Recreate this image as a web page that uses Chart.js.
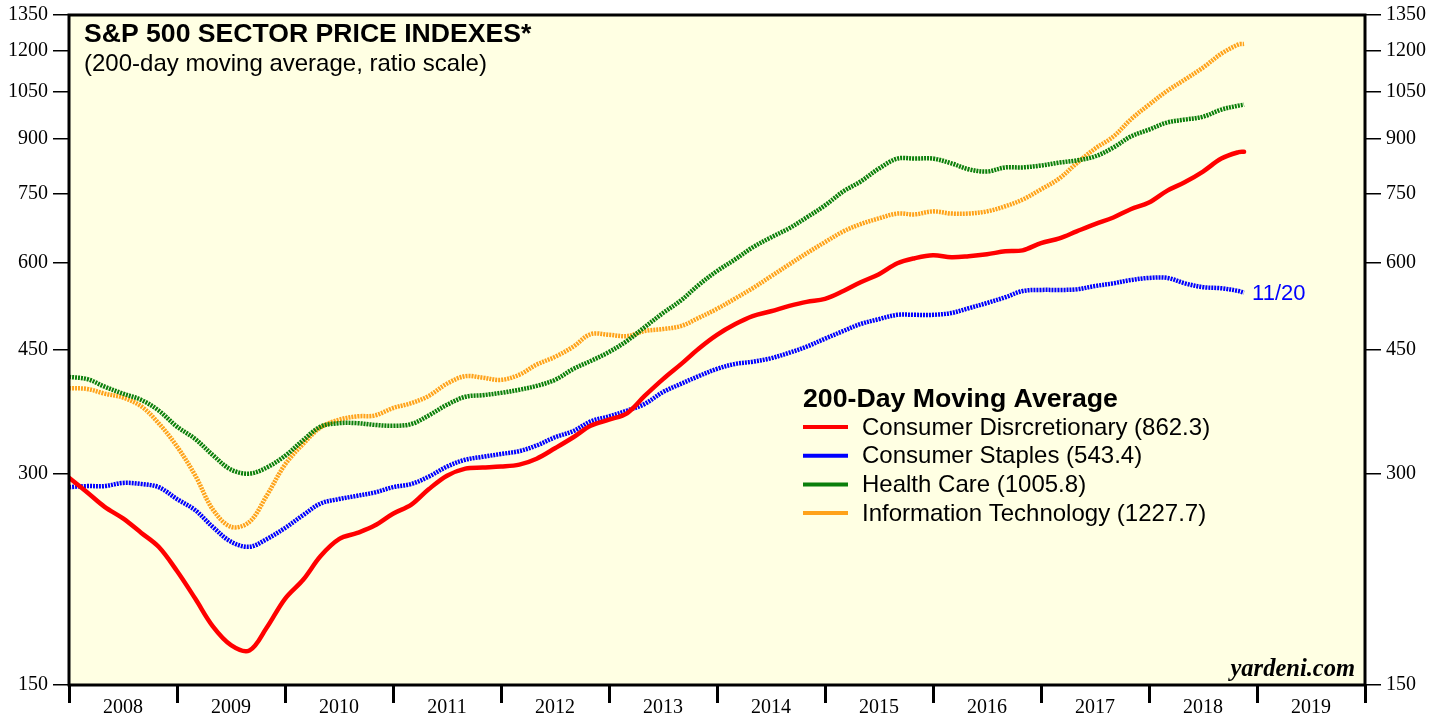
<!DOCTYPE html>
<html>
<head>
<meta charset="utf-8">
<title>S&amp;P 500 Sector Price Indexes</title>
<script src="https://cdn.jsdelivr.net/npm/chart.js@4.4.1/dist/chart.umd.min.js"></script>
<style>
  html, body { margin: 0; padding: 0; background: #fff; }
  #wrap { width: 1446px; height: 719px; }
</style>
</head>
<body>
<div id="wrap"><canvas id="chart" width="1446" height="719"></canvas></div>
<script>
// every two months, Jan 2008 .. Nov 2018 (decimal years)
const dates = [
  2008.00, 2008.17, 2008.33, 2008.50, 2008.67, 2008.83,
  2009.00, 2009.17, 2009.33, 2009.50, 2009.67, 2009.83,
  2010.00, 2010.17, 2010.33, 2010.50, 2010.67, 2010.83,
  2011.00, 2011.17, 2011.33, 2011.50, 2011.67, 2011.83,
  2012.00, 2012.17, 2012.33, 2012.50, 2012.67, 2012.83,
  2013.00, 2013.17, 2013.33, 2013.50, 2013.67, 2013.83,
  2014.00, 2014.17, 2014.33, 2014.50, 2014.67, 2014.83,
  2015.00, 2015.17, 2015.33, 2015.50, 2015.67, 2015.83,
  2016.00, 2016.17, 2016.33, 2016.50, 2016.67, 2016.83,
  2017.00, 2017.17, 2017.33, 2017.50, 2017.67, 2017.83,
  2018.00, 2018.17, 2018.33, 2018.50, 2018.67, 2018.83, 2018.88
];

const discretionary = [
  296, 282, 269, 259, 247, 236, 218, 199, 182, 171, 168, 181,
  199, 212, 229, 242, 247, 253, 263, 271, 285, 298, 305, 306,
  307, 309, 315, 326, 338, 351, 358, 366, 387, 409, 430, 452,
  473, 490, 503, 511, 520, 527, 532, 546, 562, 577, 598, 608,
  614, 610, 612, 616, 622, 624, 639, 649, 664, 680, 695, 714,
  730, 759, 780, 808, 843, 861, 862
];

const staples = [
  287, 288, 288, 291, 290, 287, 276, 266, 252, 240, 236, 242,
  251, 262, 272, 276, 279, 282, 287, 290, 297, 307, 314, 317,
  320, 323, 329, 338, 345, 356, 362, 369, 377, 392, 403, 413,
  423, 430, 433, 438, 446, 455, 467, 479, 490, 498, 505, 505,
  505, 508, 516, 525, 535, 546, 548, 548, 549, 555, 560, 566,
  570, 570, 560, 553, 551, 546, 543
];

const healthCare = [
  412, 409, 399, 390, 382, 369, 350, 336, 319, 304, 300, 306,
  318, 335, 350, 354, 354, 352, 351, 353, 363, 376, 386, 388,
  391, 395, 400, 408, 423, 434, 447, 464, 485, 508, 530, 557,
  583, 606, 630, 651, 671, 695, 723, 757, 782, 816, 843, 843,
  843, 830, 814, 808, 819, 819, 824, 832, 838, 849, 874, 906,
  927, 949, 958, 967, 990, 1003, 1006
];

const infoTech = [
  397, 396, 390, 385, 374, 354, 328, 298, 267, 252, 256, 279,
  309, 331, 349, 358, 362, 363, 372, 378, 387, 403, 413, 411,
  408, 415, 429, 440, 455, 474, 473, 471, 479, 482, 487, 500,
  515, 533, 551, 573, 596, 618, 641, 664, 680, 693, 704, 702,
  709, 704, 704, 709, 721, 737, 762, 790, 830, 871, 906, 958,
  1006, 1053, 1092, 1136, 1189, 1226, 1228
];

const yTicks = [150, 300, 450, 600, 750, 900, 1050, 1200, 1350];
const yearLabels = ["2008", "2009", "2010", "2011", "2012", "2013",
  "2014", "2015", "2016", "2017", "2018", "2019"];
const yearEdges = [2008, 2009, 2010, 2011, 2012, 2013, 2014,
  2015, 2016, 2017, 2018, 2019, 2020];

const legendItems = [
  { text: "Consumer Disrcretionary (862.3)", color: "#ff0000" },
  { text: "Consumer Staples (543.4)", color: "#0000ff" },
  { text: "Health Care (1005.8)", color: "#0b7f0b" },
  { text: "Information Technology (1227.7)", color: "#ffa21a" },
];

const serif = '"Liberation Serif", "Times New Roman", serif';
const sans = '"Liberation Sans", Arial, Helvetica, sans-serif';
const tickFont = { family: serif, size: 20, lineHeight: 1 };

function toPoints(values) {
  return values.map((v, i) => ({ x: dates[i], y: v }));
}

// year edges get tick marks, mid-years get the labels
const xTickValues = [];
yearEdges.forEach((y, i) => {
  xTickValues.push(y);
  if (i < yearLabels.length) xTickValues.push(y + 0.5);
});

const decorPlugin = {
  id: "decor",
  beforeDraw(chart) {
    const { ctx, chartArea: a } = chart;
    ctx.save();
    ctx.fillStyle = "#ffffe3";
    ctx.fillRect(a.left, a.top, a.right - a.left, a.bottom - a.top);
    ctx.restore();
  },
  afterDraw(chart) {
    const { ctx, chartArea: a } = chart;
    ctx.save();
    ctx.strokeStyle = "#000";
    ctx.lineWidth = 3;
    ctx.strokeRect(a.left, a.top, a.right - a.left, a.bottom - a.top);

    ctx.fillStyle = "#000";
    ctx.textAlign = "left";
    ctx.textBaseline = "alphabetic";
    ctx.font = "bold 26.6px " + sans;
    ctx.fillText("S&P 500 SECTOR PRICE INDEXES*", 84, 42);
    ctx.font = "24px " + sans;
    ctx.fillText("(200-day moving average, ratio scale)", 84, 71);

    // legend
    ctx.font = "bold 26.7px " + sans;
    ctx.fillText("200-Day Moving Average", 803, 407);
    ctx.font = "24px " + sans;
    ctx.textBaseline = "middle";
    legendItems.forEach((item, i) => {
      const y = 427 + i * 28.7;
      ctx.strokeStyle = item.color;
      ctx.lineWidth = 4;
      ctx.beginPath();
      ctx.moveTo(803, y);
      ctx.lineTo(848, y);
      ctx.stroke();
      ctx.fillStyle = "#000";
      ctx.fillText(item.text, 862, y + 1);
    });

    // date tag next to the last staples point
    const xs = chart.scales.x;
    const ys = chart.scales.y;
    const last = staples.length - 1;
    ctx.fillStyle = "#0000ff";
    ctx.font = "22px " + sans;
    ctx.fillText("11/20", xs.getPixelForValue(dates[last]) + 8, ys.getPixelForValue(staples[last]) + 1);

    ctx.fillStyle = "#000";
    ctx.textAlign = "right";
    ctx.textBaseline = "alphabetic";
    ctx.font = "italic bold 24.5px " + serif;
    ctx.fillText("yardeni.com", a.right - 10, a.bottom - 9);
    ctx.restore();
  },
};

function yAxis(position, width) {
  return {
    type: "logarithmic",
    position: position,
    min: 150,
    max: 1350,
    afterBuildTicks: (s) => { s.ticks = yTicks.map((v) => ({ value: v })); },
    afterFit: (s) => { s.width = width; },
    ticks: { callback: (v) => String(v), font: tickFont, color: "#000", padding: 5 },
    grid: { drawOnChartArea: false, tickLength: 16, color: "#000", lineWidth: 1.5 },
    border: { display: false },
  };
}

const dotted = { borderWidth: 4.5, borderDash: [2, 1], borderCapStyle: "butt" };

new Chart(document.getElementById("chart"), {
  type: "line",
  data: {
    datasets: [
      { label: "Consumer Discretionary", data: toPoints(discretionary), borderColor: "#ff0000", borderWidth: 4.5, borderCapStyle: "round" },
      { label: "Consumer Staples", data: toPoints(staples), borderColor: "#0000ff", ...dotted },
      { label: "Health Care", data: toPoints(healthCare), borderColor: "#0b7f0b", ...dotted },
      { label: "Information Technology", data: toPoints(infoTech), borderColor: "#ffa21a", ...dotted },
    ],
  },
  options: {
    responsive: false,
    devicePixelRatio: 1,
    animation: false,
    layout: { padding: { top: 13, left: 0, right: 0, bottom: 0 } },
    elements: { point: { radius: 0 }, line: { tension: 0.35 } },
    plugins: { legend: { display: false }, tooltip: { enabled: false } },
    scales: {
      x: {
        type: "linear",
        min: 2008,
        max: 2020,
        afterBuildTicks: (s) => { s.ticks = xTickValues.map((v) => ({ value: v })); },
        afterFit: (s) => { s.height = 34; },
        ticks: {
          autoSkip: false,
          maxRotation: 0,
          padding: -7,
          font: { family: serif, size: 20 },
          color: "#000",
          callback: (v) => (Number.isInteger(v) ? "" : yearLabels[Math.floor(v) - 2008]),
        },
        grid: {
          drawOnChartArea: false,
          tickLength: 18,
          lineWidth: 3,
          tickColor: (c) => (c.tick && Number.isInteger(c.tick.value) ? "#000" : "rgba(0,0,0,0)"),
        },
        border: { display: false },
      },
      y: yAxis("left", 69),
      y2: yAxis("right", 81),
    },
  },
  plugins: [decorPlugin],
});
</script>
</body>
</html>
